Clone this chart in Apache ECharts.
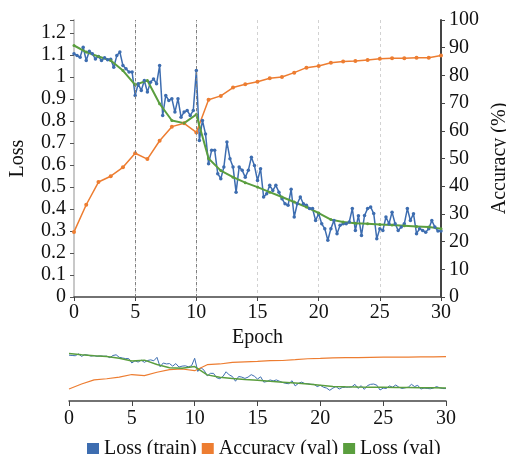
<!DOCTYPE html>
<html>
<head>
<meta charset="utf-8">
<script src="https://cdn.jsdelivr.net/npm/echarts@6/dist/echarts.min.js"></script>
<style>
html, body { margin: 0; padding: 0; background: #fff; }
#chart { width: 506px; height: 454px; }
</style>
</head>
<body>
<div id="chart"></div>
<script>
// epochs for the validation curves
const epochs = [0, 1, 2, 3, 4, 5, 6, 7, 8, 9, 10, 11, 12, 13, 14, 15,
  16, 17, 18, 19, 20, 21, 22, 23, 24, 25, 26, 27, 28, 29, 30]
// training loss is logged 4x per epoch
const trainStep = 0.25
const lossTrain = [
  1.106, 1.098, 1.091, 1.136, 1.076, 1.118, 1.106, 1.083,
  1.094, 1.076, 1.088, 1.079, 1.082, 1.045, 1.098, 1.114,
  1.053, 1.038, 1.023, 1.023, 0.917, 0.970, 0.939, 0.985,
  0.932, 0.977, 0.992, 0.970, 1.053, 0.826, 0.917, 0.894,
  0.902, 0.841, 0.902, 0.818, 0.841, 0.848, 0.826, 0.848,
  1.030, 0.712, 0.803, 0.742, 0.606, 0.667, 0.667, 0.561,
  0.538, 0.591, 0.705, 0.629, 0.591, 0.477, 0.591, 0.576,
  0.545, 0.576, 0.636, 0.598, 0.530, 0.583, 0.455, 0.470,
  0.508, 0.485, 0.508, 0.477, 0.447, 0.424, 0.417, 0.490,
  0.364, 0.424, 0.455, 0.424, 0.417, 0.402, 0.402, 0.348,
  0.379, 0.333, 0.311, 0.258, 0.311, 0.348, 0.288, 0.326,
  0.333, 0.333, 0.341, 0.402, 0.303, 0.370, 0.280, 0.371,
  0.402, 0.409, 0.380, 0.265, 0.311, 0.303, 0.364, 0.333,
  0.386, 0.333, 0.303, 0.318, 0.333, 0.402, 0.348, 0.379,
  0.288, 0.311, 0.303, 0.295, 0.311, 0.348, 0.318, 0.300,
  0.300
]
const accVal = [
  23.5, 33.3, 41.5, 43.6, 46.8, 51.9, 49.8, 56.4, 61.5, 62.7, 59.4,
  71.2, 72.6, 75.6, 76.8, 77.7, 79.0, 79.4, 81.0, 82.8, 83.4,
  84.6, 85.0, 85.2, 85.6, 86.0, 86.2, 86.2, 86.4, 86.4, 87.2
]
const lossVal = [
  1.144, 1.114, 1.094, 1.076, 1.030, 0.965, 0.985, 0.879, 0.803, 0.791, 0.830,
  0.630, 0.575, 0.545, 0.520, 0.500, 0.477, 0.455, 0.432, 0.409, 0.382,
  0.352, 0.341, 0.336, 0.333, 0.330, 0.327, 0.324, 0.321, 0.318, 0.311
]
const stepMarks = [5, 10]

const FONT = 'Liberation Serif'
const BLUE = '#3d6db0'
const ORANGE = '#ed7d31'
const GREEN = '#5a9e3e'

const trainPts = lossTrain.map((v, i) => [i * trainStep, v])
const accPts = epochs.map((e, i) => [e, accVal[i]])
const valPts = epochs.map((e, i) => [e, lossVal[i]])

const chart = echarts.init(document.getElementById('chart'))

const label = { fontSize: 20, color: '#111', fontFamily: FONT }
const darkLine = { lineStyle: { color: '#444', width: 1.5 } }

chart.setOption({
  animation: false,
  textStyle: { fontFamily: FONT },
  legend: {
    top: 434, left: 82,
    icon: 'rect', itemWidth: 12, itemHeight: 12, itemGap: 5,
    textStyle: { fontSize: 20, color: '#111', fontFamily: FONT },
    data: ['Loss (train)', 'Accuracy (val)', 'Loss (val)'],
  },
  grid: [
    { left: 74, right: 65, top: 20, bottom: 157, outerBoundsMode: 'none' },
    { left: 69, right: 60, top: 350, height: 51, outerBoundsMode: 'none' },
  ],
  xAxis: [
    {
      type: 'value', gridIndex: 0, min: 0, max: 30, interval: 5,
      name: 'Epoch', nameLocation: 'middle', nameGap: 31,
      nameTextStyle: label,
      axisLine: darkLine,
      axisTick: { show: true, length: 4, lineStyle: { color: '#444' } },
      axisLabel: { ...label, margin: 6 },
      splitLine: { show: true, lineStyle: { type: [3, 3], color: '#d2d2d2' } },
    },
    {
      type: 'value', gridIndex: 1, min: 0, max: 30, interval: 5,
      axisLine: darkLine,
      axisTick: { show: true, length: 5, lineStyle: { color: '#444' } },
      axisLabel: { ...label, margin: 8 },
      splitLine: { show: false },
    },
  ],
  yAxis: [
    {
      type: 'value', gridIndex: 0, position: 'left',
      min: 0, max: 1.26, interval: 0.1,
      name: 'Loss', nameLocation: 'middle', nameGap: 46, nameRotate: 90,
      nameTextStyle: label,
      axisLine: { show: true, lineStyle: { color: '#c8c8c8', width: 2 } },
      axisTick: { show: true, length: 4, lineStyle: { color: '#555' } },
      axisLabel: {
        ...label, margin: 8,
        formatter: v => (v > 1.25 ? '' : String(+v.toFixed(1))),
      },
      splitLine: { show: false },
    },
    {
      type: 'value', gridIndex: 0, position: 'right',
      min: 0, max: 100, interval: 10,
      name: 'Accuracy (%)', nameLocation: 'middle', nameGap: 46, nameRotate: 90,
      nameTextStyle: label,
      axisLine: { show: true, lineStyle: { color: '#444', width: 2 } },
      axisTick: { show: true, length: 4, lineStyle: { color: '#444' } },
      axisLabel: { ...label, margin: 8 },
      splitLine: { show: false },
    },
    { type: 'value', gridIndex: 1, min: 0, max: 1.23, show: false },
    { type: 'value', gridIndex: 1, min: 0, max: 100, show: false },
  ],
  series: [
    {
      name: 'Loss (train)', type: 'line', xAxisIndex: 0, yAxisIndex: 0,
      data: trainPts, symbol: 'circle', symbolSize: 3.5,
      lineStyle: { color: BLUE, width: 1.5 }, itemStyle: { color: BLUE },
      markLine: {
        silent: true, symbol: 'none', label: { show: false },
        lineStyle: { type: [3, 3], color: '#808080', width: 1 },
        data: stepMarks.map(x => ({ xAxis: x })),
      },
    },
    {
      name: 'Accuracy (val)', type: 'line', xAxisIndex: 0, yAxisIndex: 1,
      data: accPts, symbol: 'circle', symbolSize: 4,
      lineStyle: { color: ORANGE, width: 1.5 }, itemStyle: { color: ORANGE },
    },
    {
      name: 'Loss (val)', type: 'line', xAxisIndex: 0, yAxisIndex: 0,
      data: valPts, symbol: 'circle', symbolSize: 3,
      lineStyle: { color: GREEN, width: 2 }, itemStyle: { color: GREEN },
    },
    {
      name: 'Loss (train)', type: 'line', xAxisIndex: 1, yAxisIndex: 2,
      data: trainPts, showSymbol: false,
      lineStyle: { color: BLUE, width: 1 }, itemStyle: { color: BLUE },
    },
    {
      name: 'Accuracy (val)', type: 'line', xAxisIndex: 1, yAxisIndex: 3,
      data: accPts, showSymbol: false,
      lineStyle: { color: ORANGE, width: 1.2 }, itemStyle: { color: ORANGE },
    },
    {
      name: 'Loss (val)', type: 'line', xAxisIndex: 1, yAxisIndex: 2,
      data: valPts, showSymbol: false,
      lineStyle: { color: GREEN, width: 1.5 }, itemStyle: { color: GREEN },
    },
  ],
})
</script>
</body>
</html>
